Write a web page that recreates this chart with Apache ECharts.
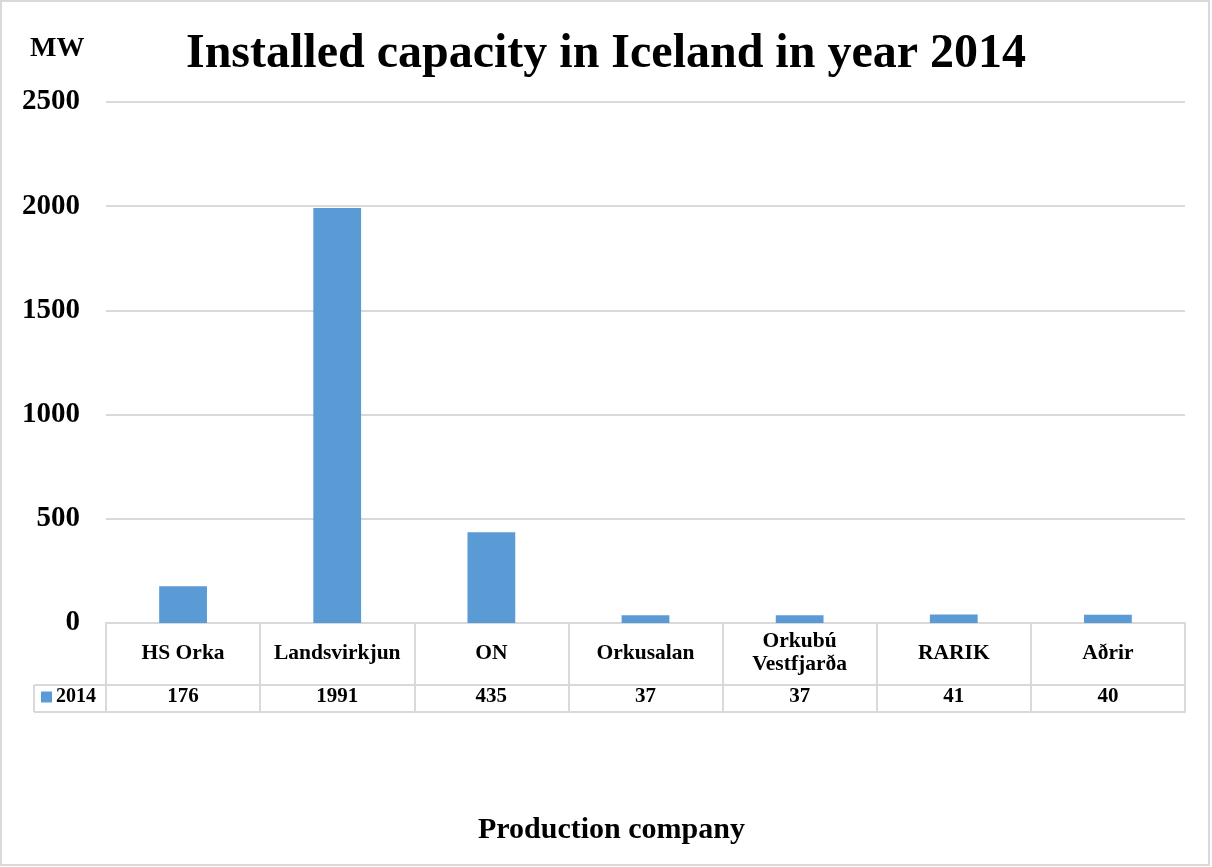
<!DOCTYPE html>
<html>
<head>
<meta charset="utf-8">
<script src="https://cdn.jsdelivr.net/npm/echarts@6/dist/echarts.min.js"></script>
<style>html,body{margin:0;padding:0;background:#fff}#c{width:1212px;height:867px}</style>
</head>
<body>
<div id="c"></div>
<script>
var categories = ['HS Orka', 'Landsvirkjun', 'ON', 'Orkusalan', 'Orkubú Vestfjarða', 'RARIK', 'Aðrir'];
var seriesName = '2014';
var values = [176, 1991, 435, 37, 37, 41, 40];
var yTicks = [0, 500, 1000, 1500, 2000, 2500];

var FONT = '"Liberation Serif", "Times New Roman", serif';
var LINE = '#d9d9d9';
var chart = echarts.init(document.getElementById('c'));
var wrap = function (v) { return v.length > 12 ? v.replace(' ', '\n') : v; };

chart.setOption({
  animation: false,
  backgroundColor: '#fff',
  title: [
    { text: 'Installed capacity in Iceland in year 2014', left: 'center', top: 31, padding: 0,
      textStyle: { fontFamily: FONT, fontWeight: 'bold', fontSize: 48, color: '#000' } },
    { text: 'MW', left: 30, top: 35, padding: 0,
      textStyle: { fontFamily: FONT, fontWeight: 'bold', fontSize: 28, color: '#000' } },
    { text: 'Production company', left: 478, top: 815, padding: 0,
      textStyle: { fontFamily: FONT, fontWeight: 'bold', fontSize: 30, color: '#000' } }
  ],
  legend: {
    data: [seriesName], left: 41, top: 687, icon: 'rect', itemWidth: 11, itemHeight: 11, itemGap: 5,
    padding: 0, selectedMode: false,
    textStyle: { fontFamily: FONT, fontWeight: 'bold', fontSize: 20, color: '#000', padding: [0, 0, 0, -1] }
  },
  grid: [
    { left: 106, right: 27, top: 102, height: 521 },
    { left: 106, right: 27, top: 623, height: 62 },
    { left: 106, right: 27, top: 685, height: 27 }
  ],
  xAxis: [
    { gridIndex: 0, type: 'category', data: categories,
      axisLine: { show: true, lineStyle: { color: LINE, width: 2 } },
      axisTick: { show: false }, axisLabel: { show: false }, splitLine: { show: false } },
    { gridIndex: 1, type: 'category', data: categories, position: 'bottom',
      axisLine: { show: true, lineStyle: { color: LINE, width: 2 } },
      axisTick: { show: false },
      splitLine: { show: true, interval: 0, lineStyle: { color: LINE, width: 2 } },
      axisLabel: { inside: true, interval: 0, margin: 32, verticalAlign: 'middle', formatter: wrap,
        fontFamily: FONT, fontWeight: 'bold', fontSize: 21.5, lineHeight: 23, color: '#000' } },
    { gridIndex: 2, type: 'category', data: values.map(String), position: 'bottom',
      axisLine: { show: true, lineStyle: { color: LINE, width: 2 } },
      axisTick: { show: false },
      splitLine: { show: true, interval: 0, lineStyle: { color: LINE, width: 2 } },
      axisLabel: { inside: true, interval: 0, margin: 15, verticalAlign: 'middle',
        fontFamily: FONT, fontWeight: 'bold', fontSize: 21, color: '#000' } }
  ],
  yAxis: [
    { gridIndex: 0, type: 'value', min: yTicks[0], max: yTicks[yTicks.length - 1], interval: 500,
      axisLine: { show: false }, axisTick: { show: false },
      splitLine: { show: true, lineStyle: { color: LINE, width: 2 } },
      axisLabel: { margin: 26, formatter: function (v) { return String(v); },
        fontFamily: FONT, fontWeight: 'bold', fontSize: 29, color: '#000', padding: [3, 0, 0, 0] } },
    { gridIndex: 1, type: 'value', show: false },
    { gridIndex: 2, type: 'value', show: false }
  ],
  series: [
    { name: seriesName, type: 'bar', xAxisIndex: 0, yAxisIndex: 0, data: values,
      barWidth: '31%', itemStyle: { color: '#5b9bd5' }, emphasis: { disabled: true } }
  ],
  graphic: [
    { type: 'rect', silent: true, shape: { x: 1, y: 1, width: 1208, height: 864 },
      style: { fill: 'none', stroke: LINE, lineWidth: 2 } },
    { type: 'line', silent: true, shape: { x1: 34, y1: 685, x2: 106, y2: 685 }, style: { stroke: LINE, lineWidth: 2 } },
    { type: 'line', silent: true, shape: { x1: 34, y1: 712, x2: 106, y2: 712 }, style: { stroke: LINE, lineWidth: 2 } },
    { type: 'line', silent: true, shape: { x1: 34, y1: 685, x2: 34, y2: 712 }, style: { stroke: LINE, lineWidth: 2 } },
    { type: 'line', silent: true, shape: { x1: 106, y1: 623, x2: 106, y2: 712 }, style: { stroke: LINE, lineWidth: 2 } }
  ]
});
</script>
</body>
</html>
